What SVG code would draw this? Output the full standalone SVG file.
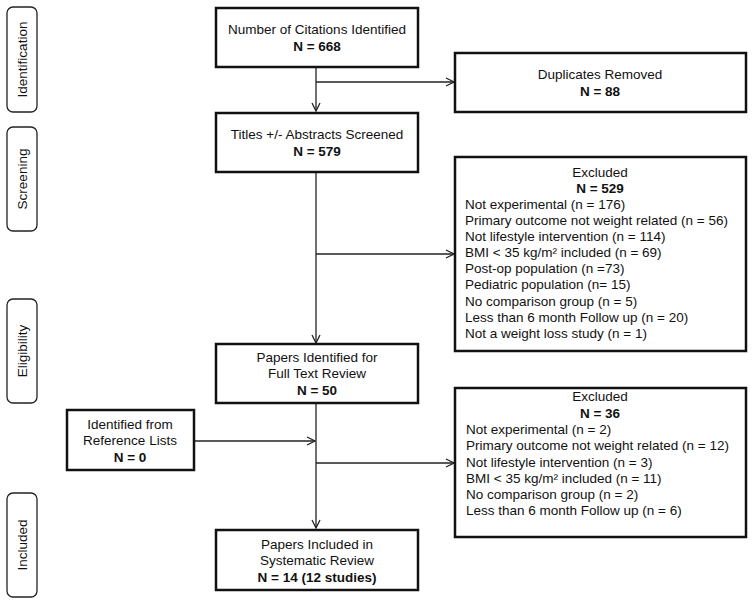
<svg xmlns="http://www.w3.org/2000/svg" width="754" height="605" viewBox="0 0 754 605">
<defs>
<marker id="arr" viewBox="0 0 10 10" refX="9" refY="5" markerWidth="10" markerHeight="10" markerUnits="userSpaceOnUse" orient="auto">
<path d="M1,1 L9,5 L1,9" fill="none" stroke="#222" stroke-width="1.3"/>
</marker>
<style>
.box{fill:#fff;stroke:#111;stroke-width:2.5}
.phase{fill:#fff;stroke:#222;stroke-width:1.3}
.t{font-family:"Liberation Sans",Arial,sans-serif;font-size:13.5px;fill:#111}
.c{text-anchor:middle}
.b{font-weight:bold}
.conn{fill:none;stroke:#222;stroke-width:1.3}
</style>
</defs>
<rect width="754" height="605" fill="#fff"/>

<g id="phase-identification">
<rect class="phase" x="7" y="7" width="30" height="105" rx="6"/>
<text class="t c" transform="translate(27,59.5) rotate(-90)">Identification</text>
</g>
<g id="phase-screening">
<rect class="phase" x="7" y="127" width="30" height="104" rx="6"/>
<text class="t c" transform="translate(27,179) rotate(-90)">Screening</text>
</g>
<g id="phase-eligibility">
<rect class="phase" x="7" y="299" width="30" height="104" rx="6"/>
<text class="t c" transform="translate(27,351) rotate(-90)">Eligibility</text>
</g>
<g id="phase-included">
<rect class="phase" x="7" y="493" width="30" height="104" rx="6"/>
<text class="t c" transform="translate(27,545) rotate(-90)">Included</text>
</g>

<g id="connectors">
<line class="conn" x1="316" y1="67" x2="316" y2="111" marker-end="url(#arr)"/>
<line class="conn" x1="316" y1="82" x2="454" y2="82" marker-end="url(#arr)"/>
<line class="conn" x1="316" y1="172" x2="316" y2="343" marker-end="url(#arr)"/>
<line class="conn" x1="316" y1="254" x2="454" y2="254" marker-end="url(#arr)"/>
<line class="conn" x1="316" y1="403" x2="316" y2="528" marker-end="url(#arr)"/>
<line class="conn" x1="194" y1="441" x2="315" y2="441" marker-end="url(#arr)"/>
<line class="conn" x1="316" y1="463" x2="454" y2="463" marker-end="url(#arr)"/>
</g>

<g id="citations">
<rect class="box" x="216" y="8" width="202" height="59"/>
<text class="t c" x="317" y="34">Number of Citations Identified</text>
<text class="t c b" x="317" y="51">N = 668</text>
</g>
<g id="duplicates">
<rect class="box" x="455" y="53" width="291" height="59"/>
<text class="t c" x="600" y="79">Duplicates Removed</text>
<text class="t c b" x="600" y="96">N = 88</text>
</g>
<g id="screened">
<rect class="box" x="216" y="113" width="202" height="59"/>
<text class="t c" x="317" y="139">Titles +/- Abstracts Screened</text>
<text class="t c b" x="317" y="156">N = 579</text>
</g>
<g id="excluded1">
<rect class="box" x="455" y="157" width="291" height="194"/>
<text class="t c" x="600" y="177">Excluded</text>
<text class="t c b" x="600" y="193">N = 529</text>
<text class="t" x="465" y="209">Not experimental (n = 176)</text>
<text class="t" x="465" y="225">Primary outcome not weight related (n = 56)</text>
<text class="t" x="465" y="241">Not lifestyle intervention (n = 114)</text>
<text class="t" x="465" y="257">BMI &lt; 35 kg/m² included (n = 69)</text>
<text class="t" x="465" y="273">Post-op population (n =73)</text>
<text class="t" x="465" y="289">Pediatric population (n= 15)</text>
<text class="t" x="465" y="306">No comparison group (n = 5)</text>
<text class="t" x="465" y="322">Less than 6 month Follow up (n = 20)</text>
<text class="t" x="465" y="338">Not a weight loss study (n = 1)</text>
</g>
<g id="fulltext">
<rect class="box" x="216" y="344" width="202" height="59"/>
<text class="t c" x="317" y="362">Papers Identified for</text>
<text class="t c" x="317" y="378">Full Text Review</text>
<text class="t c b" x="317" y="395">N = 50</text>
</g>
<g id="reflists">
<rect class="box" x="67" y="410" width="127" height="60"/>
<text class="t c" x="130" y="429">Identified from</text>
<text class="t c" x="130" y="445">Reference Lists</text>
<text class="t c b" x="130" y="462">N = 0</text>
</g>
<g id="excluded2">
<rect class="box" x="455" y="388" width="291" height="149"/>
<text class="t c" x="600" y="401">Excluded</text>
<text class="t c b" x="600" y="418">N = 36</text>
<text class="t" x="466" y="434">Not experimental (n = 2)</text>
<text class="t" x="466" y="450">Primary outcome not weight related (n = 12)</text>
<text class="t" x="466" y="467">Not lifestyle intervention (n = 3)</text>
<text class="t" x="466" y="483">BMI &lt; 35 kg/m² included (n = 11)</text>
<text class="t" x="466" y="499">No comparison group (n = 2)</text>
<text class="t" x="466" y="515">Less than 6 month Follow up (n = 6)</text>
</g>
<g id="included">
<rect class="box" x="216" y="530" width="202" height="60"/>
<text class="t c" x="317" y="549">Papers Included in</text>
<text class="t c" x="317" y="565">Systematic Review</text>
<text class="t c b" x="317" y="582">N = 14 (12 studies)</text>
</g>
</svg>
